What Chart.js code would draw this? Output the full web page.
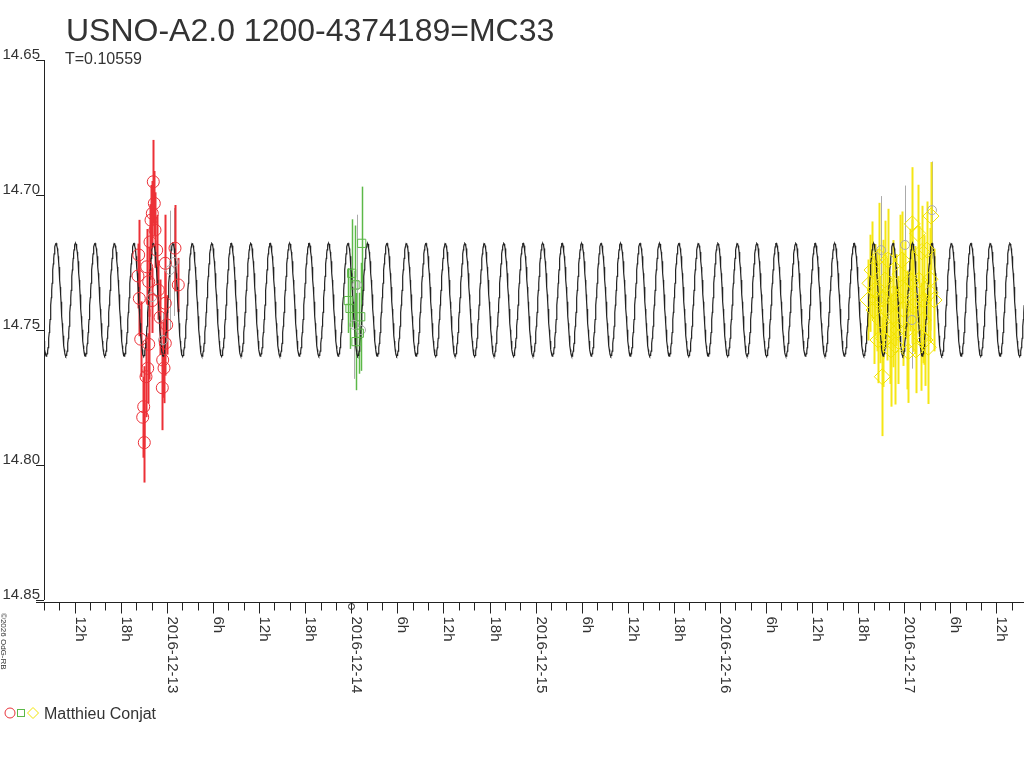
<!DOCTYPE html>
<html lang="en">
<head>
<meta charset="UTF-8">
<title>USNO-A2.0 1200-4374189=MC33</title>
<script src="https://cdn.jsdelivr.net/npm/chart.js"></script>
<style>
  html, body { margin: 0; padding: 0; background: #fff; }
  #wrap { width: 1024px; height: 768px; }
</style>
</head>
<body>
<div id="wrap"><canvas id="lc" width="1024" height="768"></canvas></div>
<script>
// time in days since 2016-12-12 00:00 UT, magnitudes
const xMin = 0.33333;   // 2016-12-12 08h
const xMax = 5.6493;
const yTicks = [14.65, 14.70, 14.75, 14.80, 14.85];
const dayLabels = ['2016-12-12', '2016-12-13', '2016-12-14', '2016-12-15', '2016-12-16', '2016-12-17'];
const hourLabels = { 6: '6h', 12: '12h', 18: '18h' };

// sine fit shown on the chart (T = period in days)
const fitPeriod = 0.10559;
const fitEpoch = 0.7155;
const fitMean = 14.7388;
const fitAmp = 0.0209;

const redTime = [0.9262, 0.9317, 0.9138, 0.9208, 0.9354, 0.9447, 0.8470, 0.8904, 0.9913, 1.0439,
  1.0618, 0.8432, 0.9013, 0.9533, 0.8503, 0.9192, 0.9913, 0.9626, 0.9989, 0.8579,
  0.9013, 0.9913, 0.9772, 0.8958, 0.8866, 0.9751, 0.8742, 0.8687, 0.8774, 0.9843, 0.9083];
const redMag = [14.6951, 14.7031, 14.7093, 14.7068, 14.7130, 14.7204, 14.7222, 14.7266, 14.7253, 14.7197,
  14.7333, 14.7300, 14.7321, 14.7352, 14.7383, 14.7391, 14.7401, 14.7453, 14.7481, 14.7534,
  14.7553, 14.7549, 14.7611, 14.7642, 14.7673, 14.7714, 14.7784, 14.7823, 14.7917, 14.7641, 14.7174];
const redErr = [0.0155, 0.012, 0.013, 0.012, 0.014, 0.013, 0.013, 0.014, 0.018, 0.016,
  0.010, 0.012, 0.013, 0.011, 0.014, 0.012, 0.012, 0.014, 0.011, 0.014,
  0.013, 0.012, 0.014, 0.013, 0.015, 0.0157, 0.015, 0.015, 0.0148, 0.013, 0.014];

const greenTime = [2.0567, 2.0024, 2.0203, 1.9840, 1.9932, 2.0513, 2.0437, 2.0257];
const greenMag = [14.7179, 14.7290, 14.7333, 14.7391, 14.7420, 14.7451, 14.7512, 14.7543];
const greenErr = [0.021, 0.020, 0.022, 0.012, 0.015, 0.020, 0.015, 0.018];

const yellowTime = [5.1448, 5.0434, 5.0727, 4.8644, 5.0944, 4.9767, 4.8139, 5.1394, 5.0401, 5.1394,
  4.9370, 4.8861, 4.9045, 5.0488, 4.9946, 5.1031, 4.9403, 5.0889, 4.8861, 5.0217,
  5.1302, 4.8806, 4.8410, 4.8519, 4.9224, 5.0038, 5.0580, 5.1123, 4.9495, 4.8682, 4.8031,
  4.8248, 4.8356, 4.8573, 4.8953, 4.9115, 4.9278, 4.9549, 4.9658, 4.9875, 5.0146,
  5.0309, 5.0634, 5.0797, 5.1068, 5.1231, 5.1611];
const yellowMag = [14.7078, 14.7107, 14.7142, 14.7229, 14.7210, 14.7293, 14.7327, 14.7312, 14.7321, 14.7362,
  14.7367, 14.7386, 14.7423, 14.7411, 14.7423, 14.7463, 14.7448, 14.7525, 14.7531, 14.7580,
  14.7564, 14.7673, 14.7352, 14.7389, 14.7500, 14.7352, 14.7389, 14.7537, 14.7556, 14.7463, 14.7389,
  14.7278, 14.7426, 14.7537, 14.7315, 14.7241, 14.7574, 14.7389, 14.7500, 14.7241, 14.7500,
  14.7315, 14.7574, 14.7315, 14.7389, 14.7204, 14.7389];
const yellowErr = [0.020, 0.021, 0.018, 0.020, 0.017, 0.022, 0.018, 0.019, 0.023, 0.018,
  0.020, 0.022, 0.019, 0.017, 0.021, 0.016, 0.019, 0.020, 0.018, 0.019,
  0.021, 0.022, 0.017, 0.019, 0.020, 0.018, 0.020, 0.017, 0.022, 0.016, 0.015,
  0.018, 0.020, 0.016, 0.022, 0.019, 0.021, 0.017, 0.020, 0.018, 0.022,
  0.019, 0.016, 0.020, 0.024, 0.018, 0.019];

const grayTime = [1.0168, 1.0385, 0.9192, 0.9788, 2.0312, 2.0529, 2.0149, 5.1502, 4.8736, 5.0038, 5.0418];
const grayMag = [14.7278, 14.7248, 14.7378, 14.7537, 14.7333, 14.7500, 14.7481, 14.7056, 14.7204, 14.7185, 14.7463];
const grayErr = [0.022, 0.020, 0.006, 0.010, 0.026, 0.015, 0.020, 0.018, 0.020, 0.022, 0.018];

const observer = 'Matthieu Conjat';
const titleText = 'USNO-A2.0 1200-4374189=MC33';
const subtitleText = 'T=0.10559';

const pts = (t, m) => t.map((x, i) => ({ x: x, y: m[i] }));

const fitLine = [];
for (let t = xMin; t <= xMax + fitPeriod / 48; t += fitPeriod / 48) {
  fitLine.push({ x: t, y: fitMean - fitAmp * Math.cos(2 * Math.PI * (t - fitEpoch) / fitPeriod) });
}

const FONT = '"Liberation Sans", Arial, sans-serif';
const TEXT = '#333';

const errorBars = {
  id: 'errorBars',
  beforeDatasetsDraw(chart) {
    const { ctx, scales: { x, y } } = chart;
    ctx.save();
    chart.data.datasets.forEach(ds => {
      if (!ds.errors) return;
      ctx.strokeStyle = ds.barColor;
      ctx.lineWidth = ds.barWidth;
      ds.data.forEach((p, i) => {
        const px = Math.round(x.getPixelForValue(p.x)) + 0.5;
        ctx.beginPath();
        ctx.moveTo(px, y.getPixelForValue(p.y - ds.errors[i]));
        ctx.lineTo(px, y.getPixelForValue(p.y + ds.errors[i]));
        ctx.stroke();
      });
    });
    ctx.restore();
  }
};

const frame = {
  id: 'frame',
  afterDraw(chart) {
    const { ctx, chartArea: a, scales: { x, y } } = chart;
    ctx.save();
    ctx.strokeStyle = '#222';
    ctx.fillStyle = TEXT;
    ctx.lineWidth = 1;

    // titles
    ctx.font = '32px ' + FONT;
    ctx.textBaseline = 'alphabetic';
    ctx.fillText(titleText, 66, 41);
    ctx.font = '16px ' + FONT;
    ctx.fillText(subtitleText, 65, 64);

    // y axis
    ctx.font = '15px ' + FONT;
    ctx.beginPath();
    ctx.moveTo(a.left + 0.5, a.top);
    ctx.lineTo(a.left + 0.5, a.bottom);
    ctx.stroke();
    ctx.textAlign = 'right';
    yTicks.forEach(v => {
      const py = Math.round(y.getPixelForValue(v)) + 0.5;
      ctx.beginPath();
      ctx.moveTo(a.left - 8, py);
      ctx.lineTo(a.left, py);
      ctx.stroke();
      ctx.fillText(v.toFixed(2), a.left - 4, py - 2);
    });

    // x axis
    const axY = a.bottom + 2.5;
    ctx.beginPath();
    ctx.moveTo(a.left - 8, axY);
    ctx.lineTo(a.right, axY);
    ctx.stroke();
    ctx.textAlign = 'left';
    ctx.textBaseline = 'alphabetic';
    for (let h = Math.ceil(x.min * 12); h <= Math.floor(x.max * 12); h++) {
      const t = h / 12;
      const px = Math.round(x.getPixelForValue(t)) + 0.5;
      const hour = (h * 2) % 24;
      const major = hour % 6 === 0;
      ctx.beginPath();
      ctx.moveTo(px, axY);
      ctx.lineTo(px, axY + (major ? 11 : 8));
      ctx.stroke();
      if (major) {
        const label = hour === 0 ? dayLabels[Math.round(t)] : hourLabels[hour];
        ctx.save();
        ctx.translate(px, axY + 14);
        ctx.rotate(Math.PI / 2);
        ctx.fillText(label, 0, 0);
        ctx.restore();
      }
    }
    // small marker on the axis at 2016-12-14
    ctx.beginPath();
    ctx.arc(Math.round(x.getPixelForValue(2)) + 0.5, axY + 4, 3, 0, Math.PI * 2);
    ctx.stroke();

    // copyright
    ctx.save();
    ctx.font = '8px ' + FONT;
    ctx.translate(1, 613);
    ctx.rotate(Math.PI / 2);
    ctx.fillText('\u00a92026 OdG-RB', 0, 0);
    ctx.restore();

    // legend
    ctx.lineWidth = 1;
    ctx.strokeStyle = '#e8323a';
    ctx.beginPath(); ctx.arc(10, 713, 5, 0, Math.PI * 2); ctx.stroke();
    ctx.strokeStyle = '#5cb848';
    ctx.strokeRect(17.5, 709.5, 7, 7);
    ctx.strokeStyle = '#f2e400';
    ctx.beginPath();
    ctx.moveTo(33, 707.5); ctx.lineTo(38.5, 713); ctx.lineTo(33, 718.5); ctx.lineTo(27.5, 713); ctx.closePath();
    ctx.stroke();
    ctx.font = '16px ' + FONT;
    ctx.fillStyle = TEXT;
    ctx.fillText(observer, 44, 719);
    ctx.restore();
  }
};

new Chart(document.getElementById('lc'), {
  type: 'scatter',
  data: {
    datasets: [
      { label: 'fit', data: fitLine, type: 'line', showLine: true, pointRadius: 0,
        borderColor: '#222', borderWidth: 1.2, order: 3 },
      { label: 'gray', data: pts(grayTime, grayMag), errors: grayErr, barColor: '#aaaaaa', barWidth: 1,
        pointStyle: 'circle', pointRadius: 4.5, borderColor: '#aaa', borderWidth: 1, backgroundColor: 'transparent', order: 2 },
      { label: 'red', data: pts(redTime, redMag), errors: redErr, barColor: '#ec3037', barWidth: 2,
        pointStyle: 'circle', pointRadius: 6, borderColor: '#ec3037', borderWidth: 1, backgroundColor: 'transparent', order: 1 },
      { label: 'green', data: pts(greenTime, greenMag), errors: greenErr, barColor: '#5cb848', barWidth: 1.5,
        pointStyle: 'rect', pointRadius: 5.8, borderColor: '#5cb848', borderWidth: 1, backgroundColor: 'transparent', order: 1 },
      { label: 'yellow', data: pts(yellowTime, yellowMag), errors: yellowErr, barColor: '#f5e614', barWidth: 2,
        pointStyle: 'rectRot', pointRadius: 8, borderColor: '#f2e400', borderWidth: 1, backgroundColor: 'transparent', order: 1 }
    ]
  },
  options: {
    responsive: false,
    animation: false,
    devicePixelRatio: 1,
    layout: { autoPadding: false, padding: { left: 44, top: 60, right: 0, bottom: 168 } },
    plugins: { legend: { display: false }, tooltip: { enabled: false }, title: { display: false } },
    scales: {
      x: { type: 'linear', min: xMin, max: xMax, display: false },
      y: { type: 'linear', min: 14.65, max: 14.85, reverse: true, display: false }
    }
  },
  plugins: [errorBars, frame]
});
</script>
</body>
</html>
